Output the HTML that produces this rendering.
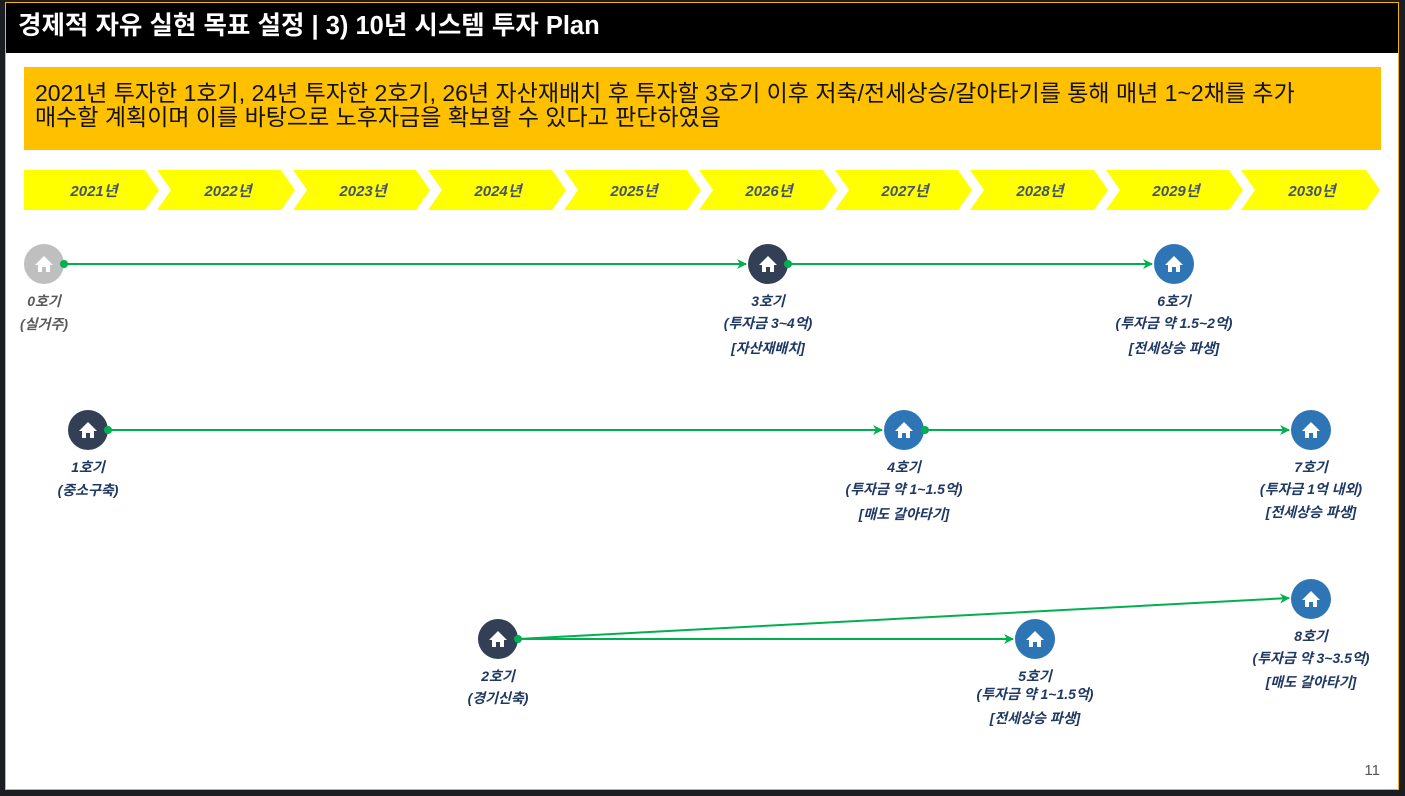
<!DOCTYPE html>
<html><head><meta charset="utf-8"><style>
html,body{margin:0;padding:0;width:1405px;height:796px;overflow:hidden;background:#1b1d22;font-family:"Liberation Sans","Noto Sans CJK KR",sans-serif}
#frame{position:absolute;left:5px;top:2px;width:1392px;height:786px;background:#fff;border:1px solid #f5b400}
#title{position:absolute;left:0;top:0;width:1392px;height:50px;background:#000;color:#fff;font-size:25.5px;font-weight:bold;line-height:46px;padding-left:12px;box-sizing:border-box;font-family:"Liberation Sans","Noto Sans CJK KR",sans-serif}
#box{position:absolute;left:18px;top:64px;width:1357px;height:83px;background:#ffc000;font-size:23px;line-height:24px;color:#111;padding:14px 0 0 11px;box-sizing:border-box;white-space:nowrap}
svg{position:absolute;left:0;top:0}
.t{font-family:"Liberation Sans","Noto Sans CJK KR",sans-serif;font-style:italic;font-weight:bold;font-size:14px;fill:#1f3864;text-anchor:middle}
.y{font-family:"Liberation Sans","Noto Sans CJK KR",sans-serif;font-style:italic;font-weight:bold;font-size:15px;fill:#44546a;text-anchor:middle}
#pg{position:absolute;right:18px;bottom:10px;font-size:15px;color:#555}
</style></head><body>
<div id="frame">
<div id="title">경제적 자유 실현 목표 설정 | 3) 10년 시스템 투자 Plan</div>
<div id="box">2021년 투자한 1호기, 24년 투자한 2호기, 26년 자산재배치 후 투자할 3호기 이후 저축/전세상승/갈아타기를 통해 매년 1~2채를 추가<br>매수할 계획이며 이를 바탕으로 노후자금을 확보할 수 있다고 판단하였음</div>
<div id="pg">11</div>
</div>
<svg width="1405" height="796" viewBox="0 0 1405 796">
<defs>
<marker id="a" markerWidth="10" markerHeight="10" refX="9" refY="5" orient="auto" markerUnits="userSpaceOnUse"><path d="M0,0 L10,5 L0,10 L3,5 z" fill="#00b050"/></marker>
<g id="h"><path d="M-9,1 L0,-8 L9,1 L6,1 L6,8 L2,8 L2,3 L-2,3 L-2,8 L-6,8 L-6,1 z" fill="#fff"/></g>
</defs>
<g fill="#ffff00">
<path d="M24,170 H145 L159,190 L145,210 H24 Z"/>
<path d="M157,170 H281 L295,190 L281,210 H157 L171,190 Z"/>
<path d="M293,170 H416 L430,190 L416,210 H293 L307,190 Z"/>
<path d="M428,170 H552 L566,190 L552,210 H428 L442,190 Z"/>
<path d="M564,170 H687 L701,190 L687,210 H564 L578,190 Z"/>
<path d="M699,170 H823 L837,190 L823,210 H699 L713,190 Z"/>
<path d="M835,170 H958 L972,190 L958,210 H835 L849,190 Z"/>
<path d="M970,170 H1094 L1108,190 L1094,210 H970 L984,190 Z"/>
<path d="M1106,170 H1229 L1243,190 L1229,210 H1106 L1120,190 Z"/>
<path d="M1241,170 H1366 L1380,190 L1366,210 H1241 L1255,190 Z"/>
</g>
<g>
<text x="94" y="196" class="y">2021년</text><text x="228" y="196" class="y">2022년</text><text x="363" y="196" class="y">2023년</text><text x="498" y="196" class="y">2024년</text><text x="634" y="196" class="y">2025년</text><text x="769" y="196" class="y">2026년</text><text x="905" y="196" class="y">2027년</text><text x="1040" y="196" class="y">2028년</text><text x="1176" y="196" class="y">2029년</text><text x="1312" y="196" class="y">2030년</text>
</g>
<g stroke="#00b050" stroke-width="2" fill="none" marker-end="url(#a)">
<line x1="64" y1="264" x2="746" y2="264"/>
<line x1="788" y1="264" x2="1152" y2="264"/>
<line x1="108" y1="430" x2="882" y2="430"/>
<line x1="925" y1="430" x2="1289" y2="430"/>
<line x1="518" y1="639" x2="1013" y2="639"/>
<line x1="518" y1="639" x2="1289" y2="598"/>
</g>
<g>
<circle cx="44" cy="264" r="20" fill="#bfbfbf"/><use href="#h" x="44" y="264"/>
<circle cx="768" cy="264" r="20" fill="#323f55"/><use href="#h" x="768" y="264"/>
<circle cx="1174" cy="264" r="20" fill="#2e75b6"/><use href="#h" x="1174" y="264"/>
<circle cx="88" cy="430" r="20" fill="#323f55"/><use href="#h" x="88" y="430"/>
<circle cx="904" cy="430" r="20" fill="#2e75b6"/><use href="#h" x="904" y="430"/>
<circle cx="1311" cy="430" r="20" fill="#2e75b6"/><use href="#h" x="1311" y="430"/>
<circle cx="498" cy="639" r="20" fill="#323f55"/><use href="#h" x="498" y="639"/>
<circle cx="1035" cy="639" r="20" fill="#2e75b6"/><use href="#h" x="1035" y="639"/>
<circle cx="1311" cy="599" r="20" fill="#2e75b6"/><use href="#h" x="1311" y="599"/>
</g>
<g fill="#00b050">
<circle cx="64" cy="264" r="4"/><circle cx="788" cy="264" r="4"/><circle cx="108" cy="430" r="4"/><circle cx="925" cy="430" r="4"/><circle cx="518" cy="639" r="4"/>
</g>
<text class="t" x="44" y="306" style="fill:#595959">0호기</text>
<text class="t" x="44" y="329" style="fill:#595959">(실거주)</text>
<text class="t" x="768" y="306">3호기</text><text class="t" x="768" y="328">(투자금 3~4억)</text><text class="t" x="768" y="353">[자산재배치]</text>
<text class="t" x="1174" y="306">6호기</text><text class="t" x="1174" y="328">(투자금 약 1.5~2억)</text><text class="t" x="1174" y="353">[전세상승 파생]</text>
<text class="t" x="88" y="472">1호기</text><text class="t" x="88" y="495">(중소구축)</text>
<text class="t" x="904" y="472">4호기</text><text class="t" x="904" y="494">(투자금 약 1~1.5억)</text><text class="t" x="904" y="519">[매도 갈아타기]</text>
<text class="t" x="1311" y="472">7호기</text><text class="t" x="1311" y="494">(투자금 1억 내외)</text><text class="t" x="1311" y="517">[전세상승 파생]</text>
<text class="t" x="498" y="681">2호기</text><text class="t" x="498" y="703">(경기신축)</text>
<text class="t" x="1035" y="681">5호기</text><text class="t" x="1035" y="699">(투자금 약 1~1.5억)</text><text class="t" x="1035" y="723">[전세상승 파생]</text>
<text class="t" x="1311" y="641">8호기</text><text class="t" x="1311" y="663">(투자금 약 3~3.5억)</text><text class="t" x="1311" y="687">[매도 갈아타기]</text>
</svg>
</body></html>
